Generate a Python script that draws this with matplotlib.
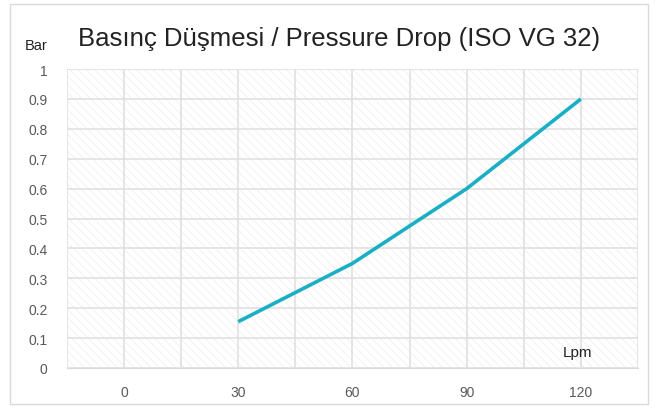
import matplotlib.pyplot as plt
from matplotlib.patches import Rectangle

categories = ["0", "30", "60", "90", "120"]
pressure = [None, 0.155, 0.35, 0.6, 0.9]
y_ticks = [0, 0.1, 0.2, 0.3, 0.4, 0.5, 0.6, 0.7, 0.8, 0.9, 1]
y_labels = ["0", "0.1", "0.2", "0.3", "0.4", "0.5", "0.6", "0.7", "0.8", "0.9", "1"]

plt.rcParams['font.family'] = ['Liberation Sans', 'DejaVu Sans']
plt.rcParams['hatch.color'] = '#ededed'
plt.rcParams['hatch.linewidth'] = 0.5

fig = plt.figure(figsize=(6.57, 4.10), dpi=100)
# outer chart border
fig.patches.append(Rectangle((0.015, 0.012), 0.972, 0.976, transform=fig.transFigure,
                             fill=False, edgecolor='#d9d9d9', linewidth=1.0))

ax = fig.add_axes([0.102, 0.1, 0.869, 0.729])
xs = [i for i, v in enumerate(pressure) if v is not None]
ys = [v for v in pressure if v is not None]

ax.add_patch(Rectangle((-0.5, 0), 5, 1, facecolor='white', hatch='\\\\\\\\', edgecolor='#ededed',
                       linewidth=0, zorder=0))
ax.plot(xs, ys, color='#1AAFC4', linewidth=2.6, solid_capstyle='butt', zorder=3)

ax.set_xlim(-0.5, 4.5)
ax.set_ylim(0, 1)
ax.set_xticks(range(len(categories)))
ax.set_xticklabels(categories)
ax.set_yticks(y_ticks)
ax.set_yticklabels(y_labels)
ax.set_xticks([i - 0.5 for i in range(len(categories) + 1)], minor=True)
ax.grid(True, which='both', color='#e0e0e0', linewidth=1.2, zorder=1)
ax.set_axisbelow(True)
ax.tick_params(axis='both', which='both', length=0, colors='#595959', labelsize=10)
ax.tick_params(axis='x', pad=12)
ax.tick_params(axis='y', pad=14)
for s in ax.spines.values():
    s.set_visible(False)
ax.spines['bottom'].set_visible(True)
ax.spines['bottom'].set_color('#d9d9d9')

fig.text(0.516, 0.905, "Basınç Düşmesi / Pressure Drop (ISO VG 32)", ha='center', va='center',
         fontsize=18.5, color='#222222')
fig.text(0.055, 0.888, "Bar", ha='center', va='center', fontsize=10.5, color='#222222')
ax.text(3.97, 0.053, "Lpm", ha='center', va='center', fontsize=11, color='#222222')

plt.savefig('out.png', dpi=100)
